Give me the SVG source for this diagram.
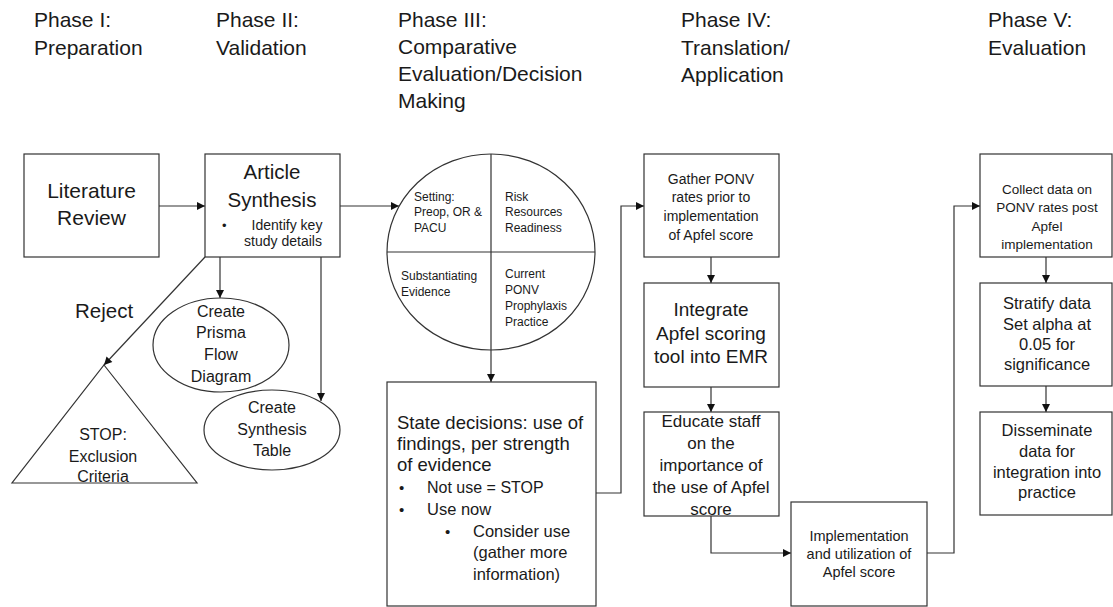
<svg xmlns="http://www.w3.org/2000/svg" width="1113" height="607" viewBox="0 0 1113 607">
<defs>
<style>
text{font-family:"Liberation Sans",Arial,sans-serif;fill:#1a1a1a}
.hd{font-size:21px}
.c{text-anchor:middle}
.box{fill:#fff;stroke:#333;stroke-width:1.2}
.ln{fill:none;stroke:#333;stroke-width:1.2}
</style>
<marker id="ah" viewBox="0 0 10 10" refX="10" refY="5" markerWidth="9" markerHeight="8" markerUnits="userSpaceOnUse" orient="auto">
<path d="M0,0 L10,5 L0,10 Z" fill="#111"/>
</marker>
</defs>
<rect width="1113" height="607" fill="#fff"/>

<g id="headers" class="hd">
<text x="34" y="27">Phase I:</text>
<text x="34" y="55">Preparation</text>
<text x="216" y="27">Phase II:</text>
<text x="216" y="55">Validation</text>
<text x="398" y="27">Phase III:</text>
<text x="398" y="54">Comparative</text>
<text x="398" y="81">Evaluation/Decision</text>
<text x="398" y="108">Making</text>
<text x="681" y="27">Phase IV:</text>
<text x="681" y="55">Translation/</text>
<text x="681" y="82">Application</text>
<text x="988" y="27">Phase V:</text>
<text x="988" y="55">Evaluation</text>
</g>

<g id="connectors" class="ln">
<path d="M159,206 H205" marker-end="url(#ah)"/>
<path d="M340,206 H399" marker-end="url(#ah)"/>
<path d="M220,257 V298" marker-end="url(#ah)"/>
<path d="M321,257 V401" marker-end="url(#ah)"/>
<path d="M205,257 L104,365" marker-end="url(#ah)"/>
<path d="M491,350 V382" marker-end="url(#ah)"/>
<path d="M596,493 H621 V206 H644" marker-end="url(#ah)"/>
<path d="M711,257 V283" marker-end="url(#ah)"/>
<path d="M711,387 V412" marker-end="url(#ah)"/>
<path d="M711,516 V553 H791" marker-end="url(#ah)"/>
<path d="M927,553 H954 V206 H980" marker-end="url(#ah)"/>
<path d="M1046,257 V283" marker-end="url(#ah)"/>
<path d="M1046,386 V412" marker-end="url(#ah)"/>
</g>

<g id="literature-review">
<rect class="box" x="24" y="154" width="135" height="103"/>
<text class="c" x="91.5" y="198" font-size="21">Literature</text>
<text class="c" x="91.5" y="225" font-size="21">Review</text>
</g>

<g id="article-synthesis">
<rect class="box" x="205" y="154" width="135" height="103"/>
<text class="c" x="272" y="179" font-size="20.5">Article</text>
<text class="c" x="272" y="207" font-size="20.5">Synthesis</text>
<text x="222" y="230" font-size="13">•</text>
<text class="c" x="287" y="230" font-size="14">Identify key</text>
<text class="c" x="283" y="246" font-size="14">study details</text>
</g>

<text id="reject-label" x="75" y="318" font-size="20.5">Reject</text>

<g id="stop-exclusion">
<path class="box" d="M104,365 L197,483 L12,483 Z"/>
<text class="c" x="103" y="440" font-size="16">STOP:</text>
<text class="c" x="103" y="462" font-size="16">Exclusion</text>
<text class="c" x="103" y="482" font-size="16">Criteria</text>
</g>

<g id="prisma">
<ellipse class="box" cx="221" cy="345" rx="68" ry="47"/>
<text class="c" x="221" y="317" font-size="16">Create</text>
<text class="c" x="221" y="338" font-size="16">Prisma</text>
<text class="c" x="221" y="360" font-size="16">Flow</text>
<text class="c" x="221" y="382" font-size="16">Diagram</text>
</g>

<g id="synthesis-table">
<ellipse class="box" cx="272" cy="430" rx="68" ry="40"/>
<text class="c" x="272" y="413" font-size="16">Create</text>
<text class="c" x="272" y="435" font-size="16">Synthesis</text>
<text class="c" x="272" y="456" font-size="16">Table</text>
</g>

<g id="evaluation-circle" font-size="12">
<ellipse class="box" cx="491" cy="252" rx="104" ry="98"/>
<path class="ln" d="M491,154 V350 M387,252 H595"/>
<text x="414" y="201" font-size="12">Setting:</text>
<text x="414" y="216" font-size="12">Preop, OR &amp;</text>
<text x="414" y="232" font-size="12">PACU</text>
<text x="505" y="201" font-size="12">Risk</text>
<text x="505" y="216" font-size="12">Resources</text>
<text x="505" y="232" font-size="12">Readiness</text>
<text x="401" y="280" font-size="12">Substantiating</text>
<text x="401" y="296" font-size="12">Evidence</text>
<text x="505" y="278" font-size="12">Current</text>
<text x="505" y="294" font-size="12">PONV</text>
<text x="505" y="310" font-size="12">Prophylaxis</text>
<text x="505" y="326" font-size="12">Practice</text>
</g>

<g id="state-decisions">
<rect class="box" x="387" y="382" width="209" height="224"/>
<text x="397" y="429" font-size="18.5">State decisions: use of</text>
<text x="397" y="450" font-size="18.5">findings, per strength</text>
<text x="397" y="471" font-size="18.5">of evidence</text>
<text x="399" y="493" font-size="15">•</text>
<text x="427" y="493" font-size="16">Not use = STOP</text>
<text x="399" y="515" font-size="15">•</text>
<text x="427" y="515" font-size="16.5">Use now</text>
<text x="445" y="537" font-size="15">•</text>
<text x="473" y="537" font-size="16.5">Consider use</text>
<text x="473" y="558" font-size="16.5">(gather more</text>
<text x="473" y="580" font-size="16.5">information)</text>
</g>

<g id="gather-ponv">
<rect class="box" x="644" y="154" width="135" height="103"/>
<text class="c" x="711" y="184" font-size="14">Gather PONV</text>
<text class="c" x="711" y="202" font-size="14">rates prior to</text>
<text class="c" x="711" y="221" font-size="14">implementation</text>
<text class="c" x="711" y="240" font-size="14">of Apfel score</text>
</g>

<g id="integrate-apfel">
<rect class="box" x="644" y="283" width="135" height="104"/>
<text class="c" x="711" y="316" font-size="19">Integrate</text>
<text class="c" x="711" y="340" font-size="19">Apfel scoring</text>
<text class="c" x="711" y="363" font-size="19">tool into EMR</text>
</g>

<g id="educate-staff">
<rect class="box" x="644" y="412" width="135" height="104"/>
<text class="c" x="711" y="427" font-size="17">Educate staff</text>
<text class="c" x="711" y="449" font-size="17">on the</text>
<text class="c" x="711" y="471" font-size="17">importance of</text>
<text class="c" x="711" y="493" font-size="17">the use of Apfel</text>
<text class="c" x="711" y="515" font-size="17">score</text>
</g>

<g id="implementation">
<rect class="box" x="791" y="502" width="136" height="104"/>
<text class="c" x="859" y="541" font-size="14.5">Implementation</text>
<text class="c" x="859" y="559" font-size="14.5">and utilization of</text>
<text class="c" x="859" y="577" font-size="14.5">Apfel score</text>
</g>

<g id="collect-data">
<rect class="box" x="980" y="154" width="132" height="103"/>
<text class="c" x="1047" y="194" font-size="13.5">Collect data on</text>
<text class="c" x="1047" y="212" font-size="13.5">PONV rates post</text>
<text class="c" x="1047" y="231" font-size="13.5">Apfel</text>
<text class="c" x="1047" y="249" font-size="13.5">implementation</text>
</g>

<g id="stratify-data">
<rect class="box" x="980" y="283" width="132" height="103"/>
<text class="c" x="1047" y="309" font-size="16.5">Stratify data</text>
<text class="c" x="1047" y="330" font-size="16.5">Set alpha at</text>
<text class="c" x="1047" y="350" font-size="16.5">0.05 for</text>
<text class="c" x="1047" y="370" font-size="16.5">significance</text>
</g>

<g id="disseminate">
<rect class="box" x="980" y="412" width="132" height="103"/>
<text class="c" x="1047" y="436" font-size="16.5">Disseminate</text>
<text class="c" x="1047" y="457" font-size="16.5">data for</text>
<text class="c" x="1047" y="478" font-size="16.5">integration into</text>
<text class="c" x="1047" y="498" font-size="16.5">practice</text>
</g>
</svg>
